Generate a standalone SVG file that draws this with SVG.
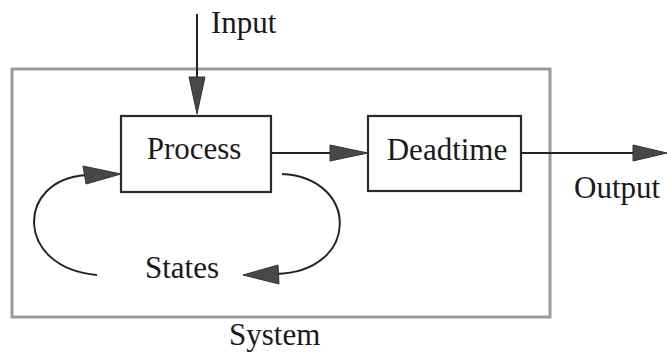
<svg xmlns="http://www.w3.org/2000/svg" width="667" height="356" viewBox="0 0 667 356">
<style>
.t{font-family:"Liberation Serif","Times New Roman",serif;font-size:31px;fill:#1a1a1a}
.box{fill:#fff;stroke:#2a2a2a;stroke-width:2.2}
.ln{fill:none;stroke:#222;stroke-width:2}
.ah{fill:#484848;stroke:#333;stroke-width:1}
</style>
<rect width="667" height="356" fill="#fff"/>
<g id="system">
<rect x="12" y="69" width="538" height="248" fill="none" stroke="#9a9a9a" stroke-width="3"/>
<text class="t" x="229" y="345">System</text>
</g>
<g id="connectors">
<line class="ln" x1="197" y1="14" x2="197" y2="80"/>
<polygon class="ah" points="189,77 205,77 197,114"/>
<line class="ln" x1="271" y1="153" x2="332" y2="153"/>
<polygon class="ah" points="330,145 330,161 368,153"/>
<line class="ln" x1="521" y1="153" x2="636" y2="153"/>
<polygon class="ah" points="633,145 633,161 667,153"/>
<path class="ln" d="M97 275 C15 268 15 180 86 175"/>
<polygon class="ah" points="83,166 86,184 121,174"/>
<path class="ln" d="M282 174 C360 178 360 272 276 274"/>
<polygon class="ah" points="278,265 279,284 243,275"/>
</g>
<g id="input"><text class="t" x="211" y="33">Input</text></g>
<g id="process">
<rect class="box" x="121" y="116" width="150" height="76"/>
<text class="t" x="194" y="159" text-anchor="middle">Process</text>
</g>
<g id="deadtime">
<rect class="box" x="368" y="116" width="153" height="75"/>
<text class="t" x="447" y="160" text-anchor="middle">Deadtime</text>
</g>
<g id="output"><text class="t" x="574" y="198">Output</text></g>
<g id="states"><text class="t" x="145" y="278">States</text></g>
</svg>
